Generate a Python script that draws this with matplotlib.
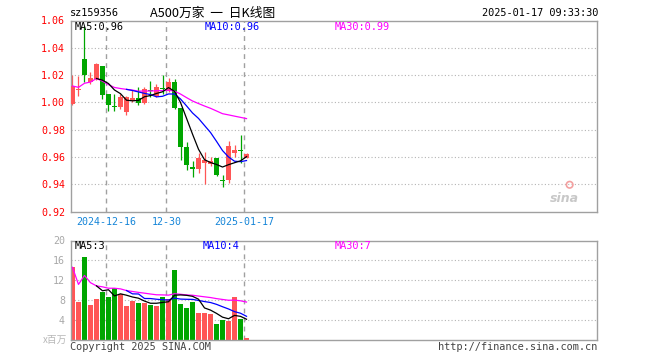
import matplotlib
matplotlib.use('Agg')
import matplotlib.pyplot as plt
import numpy as np
import pandas as pd

plt.rcParams['font.family'] = ['DejaVu Sans Mono', 'Noto Sans CJK SC']

W, H = 660, 360

# ---------------- data ----------------
opens = [0.999, 1.009, 1.032, 1.0151, 1.017, 1.0264, 1.0064, 0.9973, 0.9963, 0.9928,
         1.0007, 1.0032, 0.9995, 1.0094, 1.0047, 1.0106, 1.0081, 1.015, 0.996, 0.9672,
         0.9526, 0.9509, 0.9553, 0.9546, 0.959, 0.9425, 0.9432, 0.9627, 0.9652, 0.9595]
highs = [1.020, 1.019, 1.056, 1.022, 1.0286, 1.0264, 1.0064, 1.0064, 1.0064, 1.0047,
         1.009, 1.011, 1.0114, 1.0158, 1.0138, 1.020, 1.0175, 1.017, 0.996, 0.9707,
         0.957, 0.9632, 0.9637, 0.960, 0.9595, 0.9464, 0.9714, 0.9686, 0.976, 0.9627]
lows = [0.998, 1.005, 1.015, 1.0138, 1.0163, 1.0027, 0.994, 0.994, 0.9953, 0.9909,
        1.0002, 0.9978, 0.9985, 1.004, 1.004, 1.0064, 1.0077, 0.9948, 0.958, 0.9504,
        0.945, 0.948, 0.940, 0.9533, 0.946, 0.9378, 0.9407, 0.9602, 0.9558, 0.959]
closes = [1.012, 1.010, 1.020, 1.0175, 1.028, 1.0057, 0.9978, 0.9963, 1.004, 1.004,
          1.0035, 0.9995, 1.0096, 1.0084, 1.0116, 1.0096, 1.015, 0.996, 0.9674, 0.9538,
          0.9514, 0.9595, 0.9578, 0.957, 0.9467, 0.942, 0.9681, 0.9649, 0.964, 0.962]
volumes = [14.6, 7.7, 16.6, 7.1, 8.3, 9.7, 8.7, 10.4, 9.2, 6.9,
           7.9, 7.5, 7.5, 7.0, 6.9, 8.7, 8.2, 14.1, 7.3, 6.5,
           7.7, 5.3, 5.3, 5.1, 3.2, 3.9, 3.7, 8.7, 4.1, 0.3]

date_tick_idx = [6, 16, 29]
date_tick_labels = ['2024-12-16', '12-30', '2025-01-17']
price_ticks = [0.92, 0.94, 0.96, 0.98, 1.00, 1.02, 1.04, 1.06]
price_tick_labels = ['0.92', '0.94', '0.96', '0.98', '1.00', '1.02', '1.04', '1.06']
vol_ticks = [4, 8, 12, 16, 20]
vol_tick_labels = ['4', '8', '12', '16', '20']

RED = '#ff5656'
GREEN = '#00a600'
FRAME = '#a0a0a0'
GRID = '#b4b4b4'

x = np.arange(len(closes))
o = np.array(opens); c = np.array(closes); hi = np.array(highs); lo = np.array(lows)
v = np.array(volumes)
up = c >= o
colors = [RED if u else GREEN for u in up]

cs = pd.Series(c)
ma5 = cs.rolling(5).mean()
ma10 = cs.rolling(10).mean()
ma30 = cs.rolling(30, min_periods=1).mean()
vs = pd.Series(v)
vma5 = vs.rolling(5).mean()
vma10 = vs.rolling(10).mean()
vma30 = vs.rolling(30, min_periods=1).mean()

fig = plt.figure(figsize=(W / 100, H / 100), dpi=100)

def rect(x0, y0, x1, y1):
    return [x0 / W, 1 - y1 / H, (x1 - x0) / W, (y1 - y0) / H]

XL = (-0.33, 87.4)

# ---------------- main price axes ----------------
ax = fig.add_axes(rect(70.5, 20.5, 597, 211.5))
ax.set_xlim(*XL)
ax.set_ylim(0.92, 1.06)
for s in ax.spines.values():
    s.set_color(FRAME); s.set_linewidth(1.0)
for yv in price_ticks[1:-1]:
    ax.axhline(yv, color=GRID, lw=0.8, ls=(0, (1, 2)), zorder=0)
for i in date_tick_idx:
    ax.axvline(i - 0.35, color=FRAME, lw=1.0, ls=(0, (3.5, 3)), zorder=0)

ax.vlines(x, lo, hi, colors=colors, lw=0.9, zorder=2)
body_lo = np.minimum(o, c)
body_h = np.maximum(np.abs(c - o), 0.0008)
ax.bar(x, body_h, bottom=body_lo, width=0.83, color=colors, linewidth=0, zorder=3)

ax.plot(x, ma30, color='#ff00ff', lw=0.9, zorder=4)
ax.plot(x, ma10, color='#0000ff', lw=0.9, zorder=4)
ax.plot(x, ma5, color='black', lw=0.9, zorder=4)

ax.set_yticks(price_ticks)
ax.set_yticklabels(price_tick_labels)
ax.tick_params(axis='y', length=0, pad=4, labelcolor='#ff0000', labelsize=7.2)
ax.set_xticks([i - 0.35 for i in date_tick_idx])
ax.set_xticklabels(date_tick_labels)
ax.tick_params(axis='x', direction='in', length=2.5, color=FRAME, pad=4,
               labelcolor='#1585d8', labelsize=7.2)

# sina watermark
ax.text(0.965, 0.07, 'sina', transform=ax.transAxes, ha='right', va='center',
        fontsize=9, fontstyle='italic', fontweight='bold', color='#c8c8c8',
        family='DejaVu Sans')
ax.scatter([0.948], [0.14], transform=ax.transAxes, s=22, facecolors='none',
           edgecolors='#f3a0a0', linewidths=1.2, zorder=5)

# ---------------- volume axes ----------------
ax2 = fig.add_axes(rect(70.5, 240.5, 597, 339.8))
ax2.set_xlim(*XL)
ax2.set_ylim(0, 20)
for s in ax2.spines.values():
    s.set_color(FRAME); s.set_linewidth(1.0)
for yv in vol_ticks[:-1]:
    ax2.axhline(yv, color=GRID, lw=0.8, ls=(0, (1, 2)), zorder=0)
for i in date_tick_idx:
    ax2.axvline(i - 0.35, color=FRAME, lw=1.0, ls=(0, (3.5, 3)), zorder=0)
ax2.bar(x, v, width=0.83, color=colors, linewidth=0, zorder=2)
ax2.plot(x, vma30, color='#ff00ff', lw=0.9, zorder=3)
ax2.plot(x, vma10, color='#0000ff', lw=0.9, zorder=3)
ax2.plot(x, vma5, color='black', lw=0.9, zorder=3)
ax2.set_yticks(vol_ticks)
ax2.set_yticklabels(vol_tick_labels)
ax2.tick_params(axis='y', length=0, pad=4, labelcolor='#a8a8a8', labelsize=7.2)
ax2.set_xticks([])

# ---------------- texts ----------------
def ftext(px, py, s, **kw):
    fig.text(px / W, 1 - py / H, s, va='center', **kw)

ftext(70, 13, 'sz159356', fontsize=7.4, color='black')
ftext(150, 13, 'A500万家  一  日K线图', fontsize=9.2, color='black',
      family=['Noto Sans CJK SC', 'DejaVu Sans'])
ftext(598, 13, '2025-01-17 09:33:30', fontsize=7.4, color='black', ha='right')

ftext(75, 27, 'MA5:0.96', fontsize=7.4, color='black')
ftext(205, 27, 'MA10:0.96', fontsize=7.4, color='#0000ff')
ftext(335, 27, 'MA30:0.99', fontsize=7.4, color='#ff00ff')

ftext(75, 246, 'MA5:3', fontsize=7.4, color='black')
ftext(203, 246, 'MA10:4', fontsize=7.4, color='#0000ff')
ftext(335, 246, 'MA30:7', fontsize=7.4, color='#ff00ff')

ftext(67, 340, 'x百万', fontsize=7, color='#b8b8b8', ha='right',
      family=['Noto Sans CJK SC', 'DejaVu Sans'])
ftext(69.5, 347, 'Copyright 2025 SINA.COM', fontsize=7.4, color='#444444')
ftext(597, 347, 'http://finance.sina.com.cn', fontsize=7.4, color='#444444', ha='right')

fig.savefig('out.png', dpi=100)
